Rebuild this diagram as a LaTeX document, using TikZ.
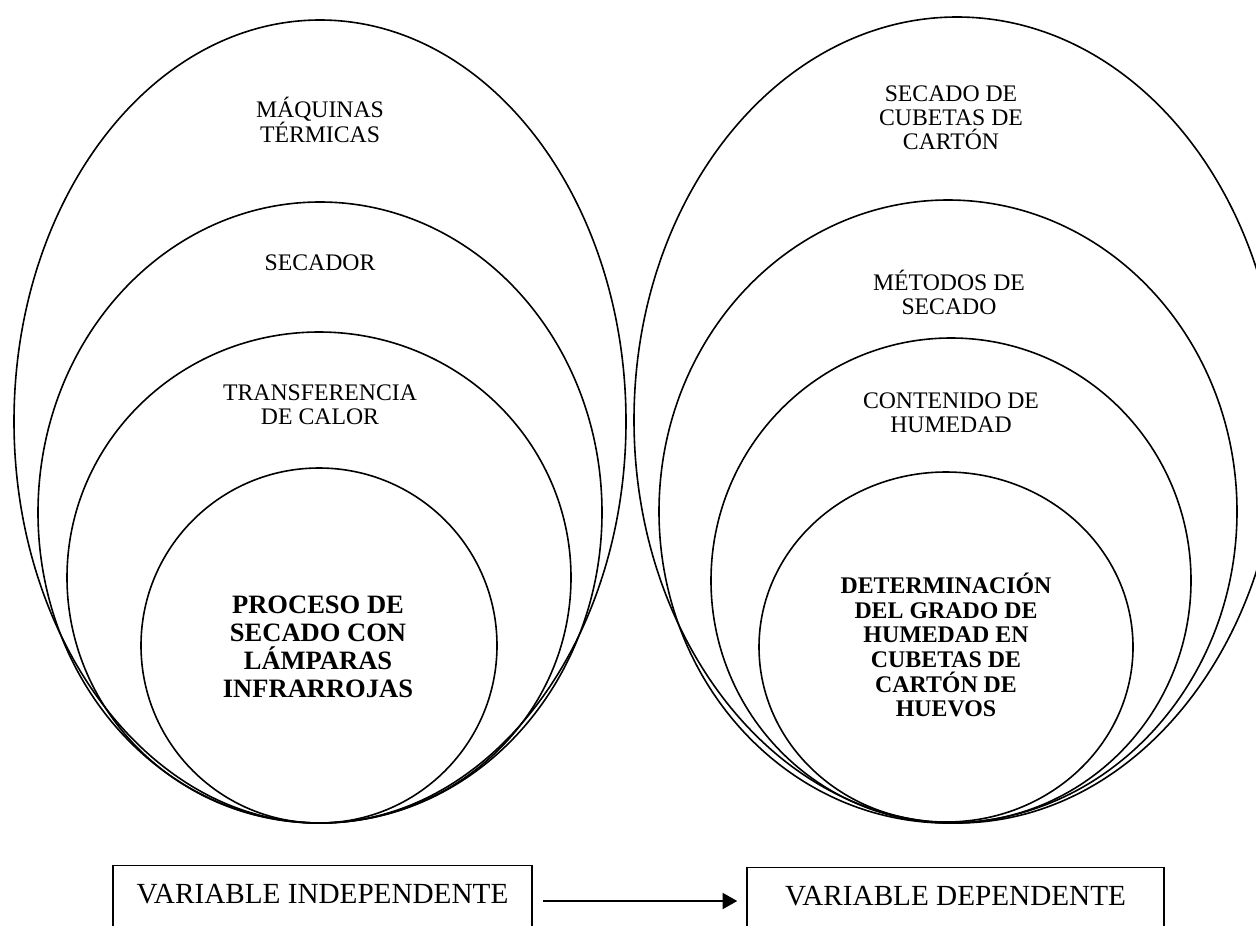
\documentclass[tikz,border=0pt]{standalone}
\usepackage{fontspec}
\setmainfont{Liberation Serif}
\usetikzlibrary{arrows.meta}

\begin{document}
\begin{tikzpicture}[x=0.75pt,y=0.75pt,yscale=-1,xscale=1,
	anillo/.style={line width=1.2pt},
	rotulo/.style={align=center,inner sep=0pt,font=\fontsize{17.8}{18}\selectfont},
	nucleo/.style={align=center,inner sep=0pt,font=\fontsize{19.9}{21}\selectfont\bfseries},
	caja/.style={draw,line width=1.1pt,anchor=north,inner sep=0pt,text height=28.5pt,text depth=30pt,font=\fontsize{21.9}{24}\selectfont},
	flecha/.style={line width=1.5pt,-{Triangle[length=11pt,width=12pt]},shorten <=7.5pt,shorten >=6.75pt}]
	\useasboundingbox (0,0) rectangle (1256,925);
	\clip (0,0) rectangle (1256,925);

	% variable independiente
	\draw [anillo] (320,421.5) ellipse (306 and 401.5);
	\draw [anillo] (320,512.5) ellipse (282 and 310.5);
	\draw [anillo] (319,577.5) ellipse (252 and 245.5);
	\draw [anillo] (319,645.5) ellipse (178 and 177.5);
	% variable dependiente
	\draw [anillo] (957,420) ellipse (323 and 403);
	\draw [anillo] (948,511.5) ellipse (289 and 311.5);
	\draw [anillo] (951,580.5) ellipse (240 and 242.5);
	\draw [anillo] (946,647) ellipse (187 and 175);

	\node (maq) [rotulo] at (320,120) {MÁQUINAS\\TÉRMICAS};
	\node (sec) [rotulo] at (320,263) {SECADOR};
	\node (tra) [rotulo] at (320,405) {TRANSFERENCIA\\DE CALOR};
	\node (pro) [nucleo] at (318,647) {PROCESO DE\\SECADO CON\\LÁMPARAS\\INFRARROJAS};

	\node (cub) [rotulo] at (951,118) {SECADO DE\\CUBETAS DE\\CARTÓN};
	\node (met) [rotulo] at (949,292) {MÉTODOS DE\\SECADO};
	\node (con) [rotulo] at (951,413) {CONTENIDO DE\\HUMEDAD};
	\node (det) [nucleo,font=\fontsize{17.9}{18.5}\selectfont\bfseries] at (946,645) {DETERMINACIÓN\\DEL GRADO DE\\HUMEDAD EN\\CUBETAS DE\\CARTÓN DE\\HUEVOS};

	\node (indep) [caja,minimum width=314.25pt] at (322.5,865) {VARIABLE INDEPENDENTE};
	\node (dep) [caja,minimum width=312.75pt] at (955.5,867) {VARIABLE DEPENDENTE};
	\draw [flecha] ([yshift=27pt]indep.north east) -- ([yshift=27pt]indep.north east -| dep.west);
\end{tikzpicture}
\end{document}
